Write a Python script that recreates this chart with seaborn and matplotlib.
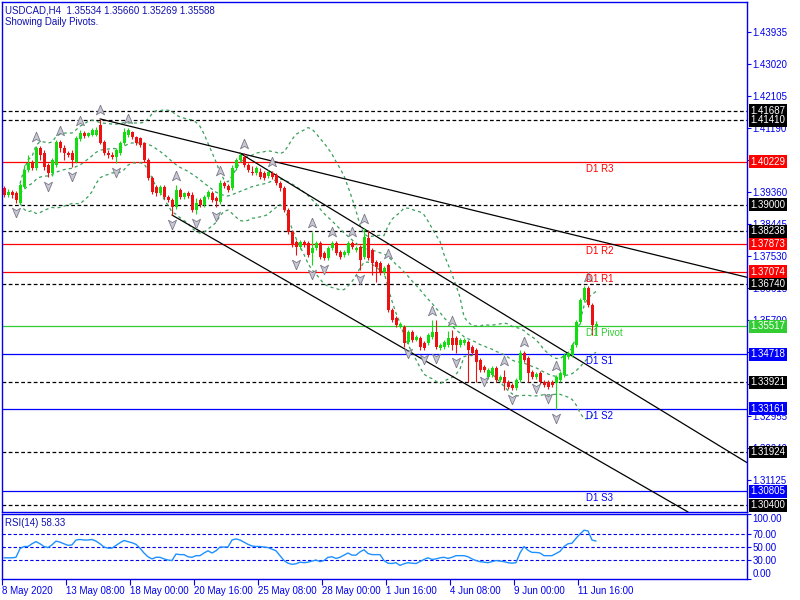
import numpy as np
import pandas as pd
import seaborn as sns
import matplotlib.pyplot as plt

# USDCAD H4 candles (bar 0 = first visible bar)
opens = [1.3947, 1.3927, 1.3936, 1.3933, 1.3904, 1.3950, 1.3999, 1.4019, 1.4005, 1.4062,
         1.4047, 1.4013, 1.3990, 1.4013, 1.4079, 1.4062, 1.4047, 1.4047, 1.4022, 1.4087,
         1.4105, 1.4096, 1.4099, 1.4099, 1.4128, 1.4079, 1.4047, 1.4042, 1.4036, 1.4047,
         1.4076, 1.4099, 1.4108, 1.4093, 1.4090, 1.4076, 1.4027, 1.3976, 1.3950, 1.3933,
         1.3950, 1.3922, 1.3913, 1.3893, 1.3942, 1.3922, 1.3933, 1.3927, 1.3884, 1.3913,
         1.3899, 1.3922, 1.3933, 1.3919, 1.3907, 1.3962, 1.3953, 1.3947, 1.4005, 1.4027,
         1.4036, 1.4013, 1.3993, 1.3990, 1.3993, 1.3990, 1.3982, 1.3990, 1.3985, 1.3962,
         1.3947, 1.3884, 1.3822, 1.3793, 1.3779, 1.3793, 1.3790, 1.3761, 1.3776, 1.3790,
         1.3761, 1.3747, 1.3776, 1.3790, 1.3764, 1.3756, 1.3761, 1.3790, 1.3770, 1.3779,
         1.3750, 1.3804, 1.3770, 1.3736, 1.3733, 1.3707, 1.3727, 1.3598, 1.3576, 1.3553,
         1.3550, 1.3507, 1.3536, 1.3513, 1.3518, 1.3504, 1.3504, 1.3521, 1.3536, 1.3490,
         1.3493, 1.3498, 1.3518, 1.3518, 1.3498, 1.3504, 1.3507, 1.3493, 1.3484, 1.3455,
         1.3435, 1.3407, 1.3413, 1.3432, 1.3398, 1.3407, 1.3393, 1.3384, 1.3376, 1.3398,
         1.3475, 1.3461, 1.3421, 1.3407, 1.3418, 1.3393, 1.3393, 1.3393, 1.3390, 1.3398,
         1.3413, 1.3464, 1.3470, 1.3498, 1.3564, 1.3627, 1.3661, 1.3613, 1.35534]
highs = [1.3953, 1.3944, 1.3942, 1.3939, 1.3962, 1.4013, 1.4042, 1.4027, 1.4067, 1.4067,
         1.4056, 1.4019, 1.4033, 1.4085, 1.4085, 1.4070, 1.4053, 1.4056, 1.4096, 1.4113,
         1.4110, 1.4108, 1.4119, 1.4122, 1.4145, 1.4085, 1.4056, 1.4050, 1.4062, 1.4082,
         1.4119, 1.4119, 1.4110, 1.4096, 1.4093, 1.4079, 1.4033, 1.3982, 1.3956, 1.3956,
         1.3956, 1.3927, 1.3919, 1.3956, 1.3947, 1.3936, 1.3939, 1.3936, 1.3919, 1.3919,
         1.3927, 1.3942, 1.3939, 1.3924, 1.3970, 1.3967, 1.3959, 1.4013, 1.4033, 1.4047,
         1.4047, 1.4019, 1.4010, 1.4010, 1.4005, 1.3996, 1.3999, 1.3996, 1.3990, 1.3967,
         1.3953, 1.3890, 1.3827, 1.3799, 1.3799, 1.3799, 1.3796, 1.3822, 1.3796, 1.3796,
         1.3767, 1.3781, 1.3796, 1.3796, 1.3770, 1.3770, 1.3796, 1.3796, 1.3781, 1.3784,
         1.3833, 1.3827, 1.3776, 1.3741, 1.3739, 1.3724, 1.3733, 1.3604, 1.3581, 1.3564,
         1.3556, 1.3541, 1.3541, 1.3527, 1.3524, 1.3510, 1.3533, 1.3570, 1.3570, 1.3504,
         1.3513, 1.3538, 1.3541, 1.3524, 1.3518, 1.3518, 1.3513, 1.3498, 1.3490, 1.3461,
         1.3441, 1.3432, 1.3438, 1.3438, 1.3413, 1.3427, 1.3398, 1.3390, 1.3404, 1.3484,
         1.3481, 1.3467, 1.3427, 1.3421, 1.3424, 1.3398, 1.3398, 1.3398, 1.3413, 1.3424,
         1.3475, 1.3481, 1.3504, 1.3570, 1.3633, 1.3667, 1.3667, 1.3618, 1.35660]
lows = [1.3922, 1.3922, 1.3919, 1.3904, 1.3902, 1.3947, 1.3993, 1.3999, 1.3999, 1.4027,
        1.3999, 1.3979, 1.3982, 1.4007, 1.4050, 1.4027, 1.4036, 1.4007, 1.4019, 1.4082,
        1.4090, 1.4093, 1.4096, 1.4096, 1.4073, 1.4042, 1.4033, 1.4030, 1.4019, 1.4042,
        1.4070, 1.4093, 1.4087, 1.4070, 1.4065, 1.4022, 1.3970, 1.3930, 1.3924, 1.3927,
        1.3916, 1.3907, 1.3870, 1.3887, 1.3916, 1.3916, 1.3919, 1.3879, 1.3873, 1.3893,
        1.3893, 1.3916, 1.3907, 1.3893, 1.3902, 1.3947, 1.3936, 1.3942, 1.3999, 1.4022,
        1.4007, 1.3993, 1.3985, 1.3985, 1.3973, 1.3970, 1.3976, 1.3973, 1.3956, 1.3939,
        1.3879, 1.3816, 1.3779, 1.3756, 1.3773, 1.3779, 1.3750, 1.3727, 1.3770, 1.3744,
        1.3741, 1.3741, 1.3770, 1.3756, 1.3744, 1.3750, 1.3756, 1.3773, 1.3764, 1.3713,
        1.3744, 1.3741, 1.3698, 1.3679, 1.3698, 1.3698, 1.3593, 1.3564, 1.3550, 1.3547,
        1.3493, 1.3501, 1.3507, 1.3510, 1.3484, 1.3484, 1.3498, 1.3516, 1.3487, 1.3484,
        1.3487, 1.3493, 1.3484, 1.3475, 1.3493, 1.3498, 1.3393, 1.3470, 1.3393, 1.3421,
        1.3421, 1.3401, 1.3407, 1.3393, 1.3393, 1.3370, 1.3373, 1.3370, 1.3370, 1.3393,
        1.3450, 1.3393, 1.3401, 1.3401, 1.3387, 1.3378, 1.3373, 1.3378, 1.3315, 1.3393,
        1.3407, 1.3458, 1.3464, 1.3493, 1.3558, 1.3621, 1.3607, 1.3527, 1.35269]
closes = [1.3927, 1.3936, 1.3927, 1.3913, 1.3956, 1.3999, 1.4019, 1.4005, 1.4062, 1.4042,
          1.4007, 1.3990, 1.4027, 1.4079, 1.4062, 1.4047, 1.4042, 1.4027, 1.4090, 1.4105,
          1.4096, 1.4105, 1.4113, 1.4113, 1.4076, 1.4047, 1.4042, 1.4036, 1.4056, 1.4076,
          1.4108, 1.4113, 1.4093, 1.4076, 1.4070, 1.4027, 1.3976, 1.3936, 1.3933, 1.3950,
          1.3922, 1.3913, 1.3893, 1.3942, 1.3922, 1.3933, 1.3924, 1.3884, 1.3904, 1.3899,
          1.3922, 1.3936, 1.3913, 1.3910, 1.3962, 1.3953, 1.3942, 1.4005, 1.4027, 1.4042,
          1.4013, 1.3999, 1.3990, 1.4005, 1.3979, 1.3976, 1.3993, 1.3979, 1.3962, 1.3947,
          1.3884, 1.3822, 1.3784, 1.3779, 1.3793, 1.3784, 1.3756, 1.3776, 1.3790, 1.3750,
          1.3747, 1.3776, 1.3790, 1.3761, 1.3750, 1.3764, 1.3790, 1.3779, 1.3776, 1.3741,
          1.3807, 1.3747, 1.3733, 1.3721, 1.3707, 1.3719, 1.3598, 1.3570, 1.3556, 1.3558,
          1.3504, 1.3536, 1.3513, 1.3521, 1.3493, 1.3490, 1.3527, 1.3536, 1.3493, 1.3498,
          1.3507, 1.3518, 1.3498, 1.3498, 1.3513, 1.3513, 1.3484, 1.3475, 1.3450, 1.3427,
          1.3427, 1.3427, 1.3432, 1.3398, 1.3407, 1.3390, 1.3378, 1.3376, 1.3398, 1.3475,
          1.3455, 1.3418, 1.3407, 1.3415, 1.3393, 1.3384, 1.3378, 1.3384, 1.3407, 1.3418,
          1.3470, 1.3475, 1.3498, 1.3564, 1.3627, 1.3661, 1.3613, 1.3556, 1.35588]

rsi_values = [32.6, 32.6, 32.6, 33.4, 46.7, 50.0, 50.0, 54.2, 57.5, 54.2,
              50.0, 48.4, 52.5, 58.3, 56.7, 54.2, 51.7, 52.5, 60.0, 60.8,
              60.0, 60.0, 60.8, 58.3, 54.2, 49.2, 47.5, 47.5, 51.7, 55.8,
              59.2, 57.5, 55.8, 53.3, 47.5, 40.0, 34.2, 30.9, 33.4, 33.4,
              30.9, 29.2, 28.4, 38.4, 37.5, 37.5, 34.2, 33.4, 35.9, 35.9,
              40.0, 43.4, 40.0, 43.4, 49.2, 49.2, 49.2, 60.0, 61.6, 60.0,
              56.7, 53.3, 50.8, 50.0, 50.0, 49.2, 48.4, 45.9, 43.4, 35.9,
              28.4, 24.3, 22.6, 23.4, 25.9, 25.1, 25.9, 27.6, 29.2, 26.7,
              28.4, 33.4, 34.2, 31.7, 33.4, 36.7, 40.0, 36.7, 36.7, 41.7,
              45.0, 39.2, 37.5, 37.5, 37.5, 28.4, 24.3, 23.8, 25.1, 20.9,
              23.4, 25.1, 24.3, 23.8, 26.7, 30.1, 32.6, 30.1, 30.9, 32.6,
              33.4, 31.7, 33.4, 35.9, 35.9, 35.9, 34.2, 30.9, 28.4, 26.7,
              25.9, 25.1, 26.7, 28.4, 27.6, 26.7, 25.1, 24.3, 25.1, 40.0,
              50.0, 44.2, 40.9, 40.9, 40.0, 35.9, 35.9, 35.9, 39.2, 42.5,
              50.0, 54.2, 55.0, 62.5, 69.1, 75.0, 74.0, 60.0, 58.33]

pivot_levels = [1.40229, 1.37873, 1.37074, 1.35517, 1.34718, 1.33161, 1.30805]
pivot_names = ["D1 R3", "D1 R2", "D1 R1", "D1 Pivot", "D1 S1", "D1 S2", "D1 S3"]
pivot_colors = ["#ff0000", "#ff0000", "#ff0000", "#33cc33", "#0000ff", "#0000ff", "#0000ff"]
dashed_levels = [1.41687, 1.41410, 1.39000, 1.38238, 1.36740, 1.33921, 1.31924, 1.30400]

up_fractals = [8, 14, 19, 24, 31, 43, 54, 60, 67, 77, 82, 87, 90, 96, 107, 112, 125, 130, 138, 146]
down_fractals = [3, 11, 17, 28, 42, 48, 53, 73, 77, 80, 89, 101, 105, 108, 113, 120, 127, 133, 136, 138]

# trend lines: (bar, price) -> (bar, price)
trend_lines = [(24, 1.4145, 185.75, 1.3692),
               (59, 1.4047, 185.75, 1.3162),
               (42, 1.3870, 171, 1.3021)]

price_ticks = [1.43935, 1.43020, 1.42105, 1.41190, 1.40275, 1.39360, 1.38445, 1.37530,
               1.36615, 1.35700, 1.34785, 1.33870, 1.32955, 1.32040, 1.31125]
hidden_ticks = [1.40275, 1.34785, 1.33870]  # fully covered by the level boxes
rsi_ticks = [100, 70, 50, 30, 0]
rsi_levels = [70, 50, 30]
time_labels = ["8 May 2020", "13 May 08:00", "18 May 00:00", "20 May 16:00", "25 May 08:00",
               "28 May 00:00", "1 Jun 16:00", "4 Jun 08:00", "9 Jun 00:00", "11 Jun 16:00"]
time_pos = [-0.5, 15.5, 31.5, 47.5, 63.5, 79.5, 95.5, 111.5, 127.5, 143.5]

df = pd.DataFrame({"bar": np.arange(len(closes)), "open": opens, "high": highs,
                   "low": lows, "close": closes, "rsi": rsi_values})

# Bollinger bands (20, 2) on the closes
roll = df["close"].rolling(20, min_periods=5)
df["bb_mid"] = roll.mean()
df["bb_up"] = df["bb_mid"] + 2 * roll.std(ddof=0)
df["bb_dn"] = df["bb_mid"] - 2 * roll.std(ddof=0)

sns.set_theme(style="white")
plt.rcParams["font.family"] = ["Liberation Sans", "DejaVu Sans"]

BLUE = "#0000ee"
TXT = "#1010b0"
fig = plt.figure(figsize=(8, 6), dpi=100)
ax = fig.add_axes([0.0025, 0.14667, 0.93125, 0.85])
ax2 = fig.add_axes([0.0025, 0.035, 0.93125, 0.10833])

# levels
for lvl in dashed_levels:
    ax.axhline(lvl, color="black", lw=0.9, linestyle=(0, (3, 2)), zorder=1)
for lvl, name, col in zip(pivot_levels, pivot_names, pivot_colors):
    ax.axhline(lvl, color=col, lw=0.9, zorder=1)
    ax.annotate(name, xy=(145.5, lvl), xytext=(0, -5), textcoords="offset points",
                color=col, fontsize=7, va="center", ha="left", zorder=6)

# bollinger bands
for col in ["bb_up", "bb_mid", "bb_dn"]:
    sns.lineplot(data=df, x="bar", y=col, ax=ax, color="#3aa05a", lw=0.9,
                 linestyle=(0, (2.5, 2.5)), zorder=2)

# trend lines
for x0, y0, x1, y1 in trend_lines:
    ax.plot([x0, x1], [y0, y1], color="black", lw=0.9, zorder=3)

# candles
up = df["close"] >= df["open"]
colors = np.where(up, "#11dd11", "#ee1111")
bottoms = np.minimum(df["open"], df["close"])
heights = np.maximum((df["close"] - df["open"]).abs(), 0.00006)
ax.vlines(df["bar"], df["low"], df["high"], colors=colors, lw=0.8, zorder=4)
ax.bar(df["bar"], heights, bottom=bottoms, width=0.75, color=colors, linewidth=0, zorder=4)

# fractal arrows
up_marker = [(0, 1), (0.75, -0.8), (0, -0.35), (-0.75, -0.8), (0, 1)]
dn_marker = [(x, -y) for x, y in up_marker]
off = 0.0026
ax.scatter(up_fractals, df.loc[up_fractals, "high"] + off, marker=up_marker, s=60,
           color="#c8c8d4", edgecolor="#7a7a8a", linewidth=0.6, zorder=5)
ax.scatter(down_fractals, df.loc[down_fractals, "low"] - off, marker=dn_marker, s=60,
           color="#c8c8d4", edgecolor="#7a7a8a", linewidth=0.6, zorder=5)

ax.set_xlim(-0.5, 185.75)
ax.set_ylim(1.30209, 1.44793)
ax.set_xticks([])
ax.yaxis.tick_right()
ax.set_yticks(price_ticks)
ax.set_yticklabels(["" if v in hidden_ticks else f"{v:.5f}" for v in price_ticks])
ax.tick_params(axis="y", direction="out", length=3, width=0.8, colors=BLUE,
               labelsize=7, pad=1, right=True, left=False)
ax.set_xlabel("")
ax.set_ylabel("")
for s in ax.spines.values():
    s.set_color(BLUE)
    s.set_linewidth(1)

# price boxes on the right scale
boxes = [(v, "#000000") for v in dashed_levels] + list(zip(pivot_levels, pivot_colors))
for val, col in boxes:
    ax.annotate(f"{val:.5f}", xy=(1, val), xycoords=("axes fraction", "data"),
                xytext=(2.5, 0), textcoords="offset points", va="center", ha="left",
                color="white", fontsize=7, annotation_clip=False, zorder=10,
                bbox=dict(boxstyle="square,pad=0.15", fc=col, ec="none"))

fig.text(0.00625, 0.983, "USDCAD,H4  1.35534 1.35660 1.35269 1.35588", color=TXT,
         fontsize=7, va="center", ha="left")
fig.text(0.00625, 0.963, "Showing Daily Pivots.", color=TXT, fontsize=7,
         va="center", ha="left")

# RSI panel
for lvl in rsi_levels:
    ax2.axhline(lvl, color=BLUE, lw=0.8, linestyle=(0, (3, 2)), zorder=1)
sns.lineplot(data=df, x="bar", y="rsi", ax=ax2, color="#1e90ff", lw=1, zorder=3)
ax2.set_xlim(-0.5, 185.75)
ax2.set_ylim(0, 100)
ax2.yaxis.tick_right()
ax2.set_yticks(rsi_ticks)
ax2.set_yticklabels([f"{v:.2f}" for v in rsi_ticks])
ax2.tick_params(axis="y", direction="out", length=3, width=0.8, colors=BLUE,
                labelsize=7, pad=1, right=True, left=False)
ylbls = ax2.get_yticklabels()
ylbls[0].set_va("top")
ylbls[-1].set_va("bottom")
ax2.set_xticks(time_pos)
ax2.set_xticklabels(time_labels)
ax2.tick_params(axis="x", direction="out", length=4, width=0.8, colors=BLUE,
                labelsize=7, pad=1, bottom=True)
for lbl in ax2.get_xticklabels():
    lbl.set_ha("left")
ax2.set_xlabel("")
ax2.set_ylabel("")
for s in ax2.spines.values():
    s.set_color(BLUE)
    s.set_linewidth(1)
ax2.text(0.004, 0.86, "RSI(14) 58.33", transform=ax2.transAxes, color=TXT,
         fontsize=7, va="center", ha="left")

fig.savefig("out.png", dpi=100)
